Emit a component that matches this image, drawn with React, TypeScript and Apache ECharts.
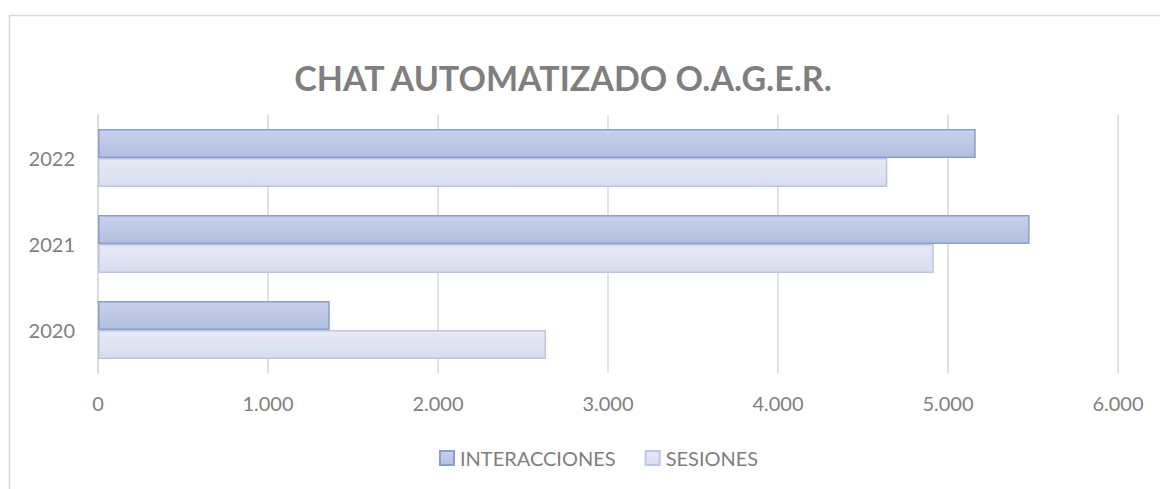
import React, { useEffect, useRef } from "react";
import * as echarts from "echarts";

const categories = ["2020", "2021", "2022"];
const interacciones = [1363, 5480, 5163];
const sesiones = [2635, 4916, 4643];
const titleText = "CHAT AUTOMATIZADO O.A.G.E.R.";
const seriesNames = ["INTERACCIONES", "SESIONES"];

const FONT = "Lato, 'Open Sans', sans-serif";
const GRAY = "#7f7f7f";

export default function App() {
  const ref = useRef<HTMLDivElement>(null);
  useEffect(() => {
    if (!ref.current) return;
    const chart = echarts.init(ref.current, undefined, { renderer: "svg" });
    const fmt = (v: number) =>
      String(v).replace(/\B(?=(\d{3})+(?!\d))/g, ".");
    chart.setOption({
      animation: false,
      backgroundColor: "#ffffff",
      title: {
        text: titleText,
        left: 558,
        textAlign: "center",
        top: 55,
        textStyle: { fontFamily: FONT, fontSize: 34, fontWeight: "bold", color: GRAY },
      },
      graphic: [
        {
          type: "rect",
          shape: { x: 9.5, y: 15.5, width: 1200, height: 520 },
          style: { fill: "none", stroke: "#d9d9d9", lineWidth: 1.5 },
          silent: true,
        },
      ],
      legend: {
        data: seriesNames,
        left: 434,
        top: 443,
        icon: "rect",
        itemWidth: 14,
        itemHeight: 14,
        itemGap: 29,
        textStyle: { fontFamily: FONT, fontSize: 20, color: GRAY, padding: [0, 0, 0, 1] },
      },
      grid: { left: 98, right: 42, top: 115, bottom: 116, containLabel: false },
      xAxis: {
        type: "value",
        min: 0,
        max: 6000,
        interval: 1000,
        axisLine: { show: false },
        axisTick: { show: false },
        splitLine: { lineStyle: { color: "#d9d9d9", width: 1.5 } },
        axisLabel: { formatter: fmt, fontFamily: FONT, fontSize: 20, color: GRAY, margin: 20 },
      },
      yAxis: {
        type: "category",
        data: categories,
        axisLine: { show: true, lineStyle: { color: "#d9d9d9", width: 1.5 } },
        axisTick: { show: false },
        axisLabel: { fontFamily: FONT, fontSize: 20, color: GRAY, margin: 23 },
      },
      series: [
        {
          name: "INTERACCIONES",
          type: "bar",
          data: interacciones,
          barWidth: 29,
          barGap: "0%",
          barCategoryGap: "33%",
          itemStyle: {
            color: new echarts.graphic.LinearGradient(0, 0, 0, 1, [
              { offset: 0, color: "#c9d1ea" },
              { offset: 1, color: "#b3bfe1" },
            ]),
            borderColor: "#8a9ed0",
            borderWidth: 1.5,
          },
        },
        {
          name: "SESIONES",
          type: "bar",
          data: sesiones,
          barWidth: 29,
          barGap: "0%",
          itemStyle: {
            color: new echarts.graphic.LinearGradient(0, 0, 0, 1, [
              { offset: 0, color: "#e7eaf5" },
              { offset: 1, color: "#d8ddef" },
            ]),
            borderColor: "#bcc6e4",
            borderWidth: 1.5,
          },
        },
      ],
    });
    return () => chart.dispose();
  }, []);
  return (
    <div
      ref={ref}
      style={{ position: "absolute", left: 0, top: 0, width: 1160, height: 489 }}
    />
  );
}
